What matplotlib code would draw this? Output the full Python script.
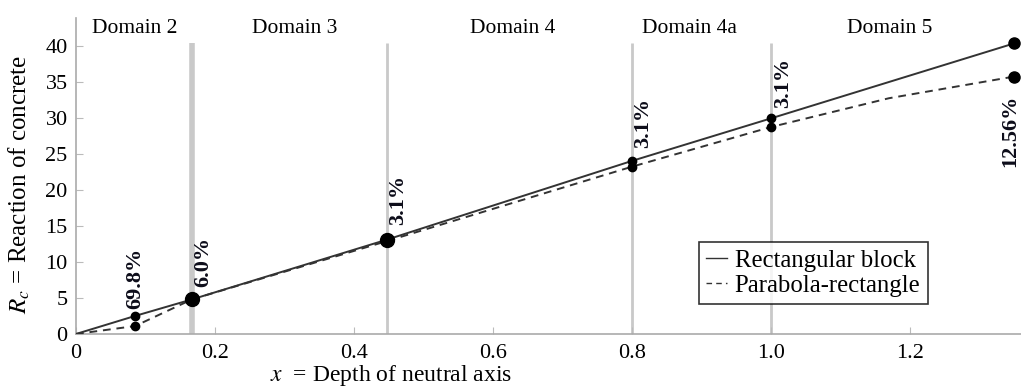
import numpy as np
import matplotlib
matplotlib.use('Agg')
import matplotlib.pyplot as plt

plt.rcParams['font.family'] = ['Liberation Serif', 'DejaVu Serif']
plt.rcParams['mathtext.fontset'] = 'stix'

# Data
x_rect = [0, 0.085, 0.167, 0.448, 0.8, 1.0, 1.35]
y_rect = [0, 2.5, 4.8, 13.1, 24.0, 29.9, 40.3]

x_para = [0, 0.085, 0.167, 0.448, 0.8, 1.0, 1.17, 1.35]
y_para = [0, 1.1, 4.8, 12.9, 23.2, 28.7, 32.7, 35.7]

# domain boundaries
x_bounds = [0.167, 0.448, 0.8, 1.0]

domain_names = ['Domain 2', 'Domain 3', 'Domain 4', 'Domain 4a', 'Domain 5']
domain_x = [0.085, 0.315, 0.629, 0.883, 1.171]

# percentage labels
pct_labels = ['69.8%', '6.0%', '3.1%', '3.1%', '3.1%', '12.56%']
pct_x = [0.085, 0.183, 0.463, 0.816, 1.017, 1.345]
pct_y = [3.4, 6.5, 15.1, 25.8, 31.4, 23.1]

fig = plt.figure(figsize=(10.21, 3.87), dpi=100)
ax = fig.add_axes([0.0744, 0.137, 0.9256, 0.816])

grey = '#c9c9c9'
for i, xb in enumerate(x_bounds):
    ax.vlines(xb, 0, 40.3, color=grey, lw=4 if i == 0 else 2, zorder=1)

ax.plot(x_rect, y_rect, color='#333333', lw=1.4, label='Rectangular block', zorder=3)
ax.plot(x_para, y_para, color='#333333', lw=1.4, ls=(0, (4, 3)), label='Parabola-rectangle', zorder=3)

# markers
small = [1, 4, 5]
ax.plot([x_rect[i] for i in small], [y_rect[i] for i in small], 'o', color='black', ms=6, zorder=4)
ax.plot([x_para[i] for i in small], [y_para[i] for i in small], 'o', color='black', ms=6, zorder=4)
ax.plot([x_rect[2], x_rect[3]], [y_rect[2], y_rect[3]], 'o', color='black', ms=10, zorder=4)
ax.plot([x_rect[6], x_para[7]], [y_rect[6], y_para[7]], 'o', color='black', ms=8, zorder=4)

for lab, px, py in zip(pct_labels, pct_x, pct_y):
    ax.text(px, py, lab, rotation=90, ha='center', va='bottom', fontsize=16,
            fontweight='bold', color='#0d0d1a')

for name, dx in zip(domain_names, domain_x):
    ax.text(dx, 41.8, name, ha='center', va='baseline', fontsize=15.5)

ax.set_xlim(0, 1.36)
ax.set_ylim(0, 43.8)
ax.set_xticks([0, 0.2, 0.4, 0.6, 0.8, 1.0, 1.2])
ax.set_xticklabels(['0', '0.2', '0.4', '0.6', '0.8', '1.0', '1.2'])
ax.set_yticks(np.arange(0, 41, 5))

for s in ['top', 'right']:
    ax.spines[s].set_visible(False)
for s in ['left', 'bottom']:
    ax.spines[s].set_color('#aaaaaa')
    ax.spines[s].set_linewidth(1.2)
ax.tick_params(direction='in', length=5, color='#bbbbbb', labelsize=16)
ax.tick_params(axis='x', pad=7)
ax.tick_params(axis='y', pad=6)

ax.set_xlabel('$x$  = Depth of neutral axis', fontsize=17)
ax.xaxis.set_label_coords(0.333, -0.093)
ax.set_ylabel('$R_c$ = Reaction of concrete', fontsize=18)
ax.yaxis.set_label_coords(-0.046, 0.475)

leg = ax.legend(loc='lower left', bbox_to_anchor=(0.659, 0.095), fontsize=17.8, frameon=True,
                fancybox=False, edgecolor='black', handlelength=0.85, handletextpad=0.3,
                borderpad=0.3, borderaxespad=0, labelspacing=0.1)
leg.get_frame().set_linewidth(1.2)
for h in leg.get_lines():
    h.set_linewidth(1.0)

fig.savefig('out.png', dpi=100)
